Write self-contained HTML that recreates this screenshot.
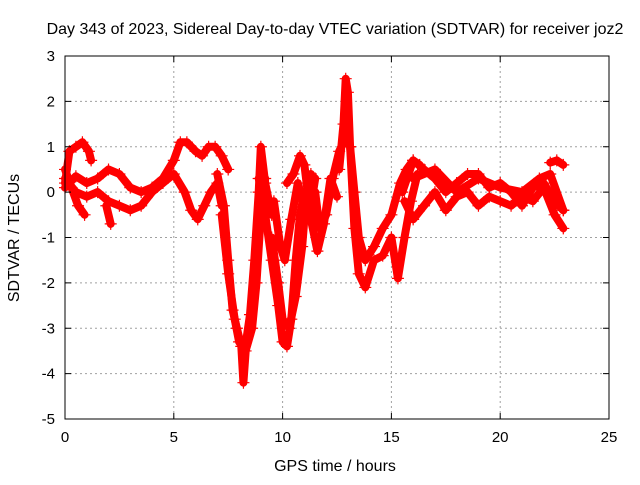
<!DOCTYPE html>
<html><head><meta charset="utf-8"><style>
body{margin:0;background:#fff;}
svg text{font-family:"Liberation Sans",sans-serif;font-size:15px;fill:#000;}
svg text.big{font-size:16px;}
</style></head><body>
<svg id="chart" width="640" height="480">
<text class="big" x="335" y="34" text-anchor="middle">Day 343 of 2023, Sidereal Day-to-day VTEC variation (SDTVAR) for receiver joz2</text>
<text class="big" x="335" y="471" text-anchor="middle">GPS time / hours</text>
<text class="big" transform="translate(19,238) rotate(-90)" text-anchor="middle">SDTVAR / TECUs</text>
<g id="grid"></g><g id="marks"></g>
<rect x="65" y="56" width="544" height="363" fill="none" stroke="#000"/>
<g id="ticks"></g>
</svg>
<script>
const xTicks=[0,5,10,15,20,25];
const yTicks=[3,2,1,0,-1,-2,-3,-4,-5];
const trackTimes=[
[0,0.2,0.5,0.8,1.1,1.2],
[0,0.3,0.6,0.9],
[0,0.5,1,1.5,2,2.5,3,3.5,4,4.5,5,5.3,5.6,6,6.3,6.6,6.9,7.2,7.5],
[0,0.5,1,1.5,2,2.5,3,3.5,4,4.5,5,5.5,5.8,6.1,6.4,6.7,7.0,7.2],
[7.0,7.3,7.5,7.7,7.9,8.1,8.2,8.35,8.5,8.7,8.9,9.0,9.2,9.5],
[7.2,7.5,7.8,8.0,8.3,8.6,8.8,9.0,9.2],
[9.2,9.5,9.8,10.0,10.2,10.4,10.6,10.8,11.0,11.3,11.5],
[9.5,9.8,10.0,10.3,10.6,10.9,11.1,11.3],
[8.9,9.3,9.6,9.9,10.1,10.4,10.7,11.0,11.2,11.5,11.7,12.0,12.3,12.6,12.9,13.1,13.3,13.5,13.8,14.2,14.6,15.0,15.4,15.7,16.0,16.3],
[12.6,12.8,12.9,13.0,13.1,13.3,13.5,13.8,14.2,14.6,15.0,15.3,15.6,15.9,16.2],
[10.2,10.5,10.8,11.0,11.3,11.6,11.9,12.2,12.5],
[15.5,16,16.5,17,17.5,18,18.5,19,19.5,20,20.5,21,21.5,22,22.5,22.9],
[15.6,16,16.5,17,17.5,18,18.5,19,19.5,20,20.5,21,21.5,22,22.5,22.9],
[16,17,18,19,20,21,21.8,22.3,22.9],
[22.3,22.6,22.9],
[1.9,2.1]
];
const trackValues=[
[0.2,0.9,1.0,1.1,0.9,0.7],
[0.5,0.1,-0.3,-0.5],
[0.1,0.35,0.2,0.3,0.5,0.4,0.1,0.0,0.1,0.3,0.7,1.1,1.1,0.9,0.8,1.0,1.0,0.8,0.5],
[0.3,0.0,-0.1,0.0,-0.2,-0.3,-0.4,-0.3,0.0,0.2,0.4,0.0,-0.4,-0.6,-0.3,0.0,0.2,-0.3],
[0.4,-0.3,-1.5,-2.6,-3.0,-3.4,-4.2,-3.2,-2.7,-1.5,0.0,1.0,0.2,-0.5],
[-0.5,-1.8,-2.8,-3.3,-3.5,-3.0,-2.0,-0.5,0.3],
[-0.5,-1.5,-2.5,-3.3,-3.4,-2.8,-1.5,-0.5,0.0,-0.3,0.3],
[-1.0,-2.0,-2.8,-3.0,-2.3,-1.2,0.0,0.4],
[0.3,-0.5,-0.2,-1.2,-1.5,-0.6,0.2,-0.3,-0.5,0.0,-0.8,-0.5,0.3,0.9,1.2,1.0,0.0,-1.0,-1.5,-1.2,-0.8,-0.5,0.2,0.5,0.7,0.6],
[0.5,1.5,2.5,2.2,1.0,-0.8,-1.8,-2.1,-1.5,-1.4,-1.0,-1.9,-1.0,-0.2,0.4],
[0.2,0.4,0.8,0.6,-0.6,-1.3,-0.7,0.3,-0.1],
[0.0,0.7,0.5,0.3,0.0,0.2,0.4,0.4,0.1,0.2,0.0,-0.3,0.1,0.2,-0.2,-0.4],
[-0.2,-0.6,-0.3,0.0,-0.4,-0.1,0.0,-0.3,-0.1,-0.2,-0.3,-0.1,-0.2,0.1,-0.5,-0.8],
[0.3,0.5,0.0,0.3,0.1,0.0,0.3,0.4,-0.4],
[0.65,0.7,0.6],
[-0.3,-0.7]
];
const X0=65,X1=609,Y0=56,Y1=419;
const xs=t=>X0+(t-0)/(25-0)*(X1-X0);
const ys=v=>Y0+(3-v)/(3-(-5))*(Y1-Y0);
const NS="http://www.w3.org/2000/svg";
const grid=document.getElementById('grid'),ticks=document.getElementById('ticks'),marks=document.getElementById('marks');
function mk(tag,attrs,parent){const e=document.createElementNS(NS,tag);for(const k in attrs)e.setAttribute(k,attrs[k]);parent.appendChild(e);return e;}
xTicks.forEach(t=>{const x=xs(t);
 if(t>0&&t<25){const g=mk('line',{x1:x,x2:x,y1:Y0,y2:Y1,stroke:'#a0a0a0','stroke-dasharray':'2,3'},grid);
 
 }
 mk('line',{x1:x,x2:x,y1:Y1,y2:Y1-6,stroke:'#000'},ticks);mk('line',{x1:x,x2:x,y1:Y0,y2:Y0+6,stroke:'#000'},ticks);
 const l=mk('text',{x:x,y:Y1+23,'text-anchor':'middle'},ticks);l.textContent=t;
 
 });
yTicks.forEach(v=>{const y=ys(v);
 if(v<3&&v>-5){const g=mk('line',{x1:X0,x2:X1,y1:y,y2:y,stroke:'#a0a0a0','stroke-dasharray':'2,3'},grid);
 
 }
 mk('line',{x1:X0,x2:X0+6,y1:y,y2:y,stroke:'#000'},ticks);mk('line',{x1:X1,x2:X1-6,y1:y,y2:y,stroke:'#000'},ticks);
 const l=mk('text',{x:X0-10,y:y+5,'text-anchor':'end'},ticks);l.textContent=v;
 
 });
trackTimes.forEach((tt,i)=>{const vv=trackValues[i];
 const pts=tt.map((t,j)=>xs(t).toFixed(1)+','+ys(vv[j]).toFixed(1)).join(' ');
 const p=mk('polyline',{points:pts,fill:'none',stroke:'#ff0000','stroke-width':8,'stroke-linejoin':'round','stroke-linecap':'round'},marks);
 
 
 tt.forEach((t,j)=>{const x=xs(t),y=ys(vv[j]);
  const m=mk('path',{d:`M${x-6},${y}h12M${x},${y-6}v12`,stroke:'#ff0000','stroke-width':1.2},marks);
  
  });
});
</script>
</body></html>
